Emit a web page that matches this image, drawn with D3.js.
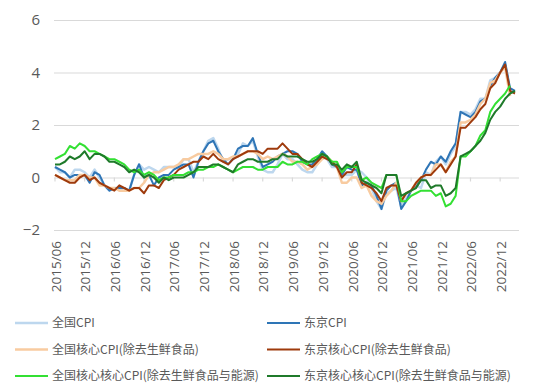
<!DOCTYPE html>
<html>
<head>
<meta charset="utf-8">
<script src="https://cdn.jsdelivr.net/npm/d3@7/dist/d3.min.js"></script>
<style>
  body { margin: 0; background: #fff; }
  svg { display: block; }
  .tick-label { font-family: "Open Sans", "Liberation Sans", sans-serif; fill: #595959; }
  .legend-label { font-family: "Noto Sans CJK SC", sans-serif; font-size: 12px; fill: #595959; }
</style>
</head>
<body>
<svg id="chart" width="550" height="389"></svg>
<script>
'use strict';

// monthly categories, 2015/06 .. 2023/03
const months = d3.timeMonth.range(new Date(2015, 5, 1), new Date(2023, 3, 1))
  .map(d3.timeFormat('%Y/%m'));

const tickLabels = [
  '2015/06', '2015/12', '2016/06', '2016/12', '2017/06', '2017/12', '2018/06', '2018/12',
  '2019/06', '2019/12', '2020/06', '2020/12', '2021/06', '2021/12', '2022/06', '2022/12'
];
const yTicks = [-2, 0, 2, 4, 6];

// YoY %, one value per month starting 2015/06
const nationalCPI = [
  0.4, 0.2, 0.2, 0.0, 0.3, 0.3, 0.2,
  0.0, 0.3, 0.0, -0.3, -0.5, -0.4, -0.4, -0.5, -0.5, 0.1, 0.5, 0.3,
  0.4, 0.3, 0.2, 0.4, 0.4, 0.4, 0.4, 0.7, 0.7, 0.2, 0.6, 1.0,
  1.4, 1.5, 1.1, 0.6, 0.7, 0.7, 0.9, 1.3, 1.2, 1.4, 0.8, 0.3,
  0.2, 0.2, 0.5, 0.9, 0.7, 0.7, 0.5, 0.3, 0.2, 0.2, 0.5, 0.8,
  0.7, 0.4, 0.4, 0.1, 0.1, 0.1, 0.3, 0.2, 0.0, -0.4, -0.9, -1.2,
  -0.6, -0.5, -0.4, -1.1, -0.8, -0.5, -0.3, -0.4, 0.2, 0.1, 0.6, 0.8,
  0.5, 0.9, 1.2, 2.5, 2.5, 2.4, 2.6, 3.0, 3.0, 3.7, 3.8, 4.0,
  4.3, 3.3
];
const tokyoCPI = [
  0.4, 0.3, 0.2, 0.0, 0.1, 0.1, 0.1,
  -0.2, 0.2, 0.1, -0.3, -0.5, -0.4, -0.4, -0.4, -0.5, 0.1, 0.5, 0.0,
  0.1, -0.3, 0.0, 0.1, 0.1, 0.3, 0.4, 0.5, 0.5, 0.0, 0.6, 1.0,
  1.3, 1.4, 1.0, 0.7, 0.5, 0.7, 1.1, 1.2, 1.2, 1.5, 0.9, 0.4,
  0.5, 0.6, 0.8, 0.9, 1.0, 1.0, 0.9, 0.6, 0.5, 0.5, 0.7, 1.0,
  0.8, 0.5, 0.4, 0.1, 0.4, 0.3, 0.3, -0.3, -0.2, -0.3, -0.7, -1.2,
  -0.5, -0.3, -0.2, -1.2, -0.9, -0.5, -0.3, -0.1, 0.3, 0.6, 0.5, 0.8,
  0.6, 1.0, 1.3, 2.5, 2.4, 2.3, 2.5, 2.9, 3.0, 3.5, 3.8, 4.0,
  4.4, 3.4, 3.3
];
const nationalCore = [
  0.1, 0.0, -0.1, -0.1, -0.1, 0.1, 0.1,
  0.0, 0.0, -0.3, -0.3, -0.4, -0.4, -0.5, -0.5, -0.5, -0.4, -0.4, -0.2,
  0.1, 0.2, 0.2, 0.3, 0.4, 0.4, 0.5, 0.7, 0.7, 0.8, 0.9, 0.9,
  0.9, 1.0, 0.9, 0.7, 0.7, 0.8, 0.8, 0.9, 1.0, 1.0, 0.9, 0.7,
  0.8, 0.7, 0.8, 0.9, 0.8, 0.6, 0.6, 0.5, 0.3, 0.4, 0.5, 0.7,
  0.8, 0.6, 0.4, -0.2, -0.2, 0.0, 0.0, -0.4, -0.3, -0.7, -0.9, -1.0,
  -0.7, -0.5, -0.2, -0.9, -0.6, -0.5, -0.2, 0.0, 0.1, 0.1, 0.5, 0.5,
  0.2, 0.6, 0.8, 2.1, 2.1, 2.2, 2.4, 2.8, 3.0, 3.6, 3.7, 4.0,
  4.2, 3.1
];
const tokyoCore = [
  0.1, 0.0, -0.1, -0.2, -0.2, 0.0, 0.1,
  -0.1, 0.0, -0.2, -0.3, -0.4, -0.5, -0.3, -0.4, -0.5, -0.4, -0.4, -0.6,
  -0.3, -0.3, -0.4, -0.1, 0.0, 0.1, 0.3, 0.4, 0.5, 0.6, 0.6, 0.8,
  0.7, 0.9, 0.7, 0.6, 0.5, 0.7, 0.8, 0.9, 1.0, 1.0, 1.0, 0.9,
  1.1, 1.1, 1.1, 1.3, 1.1, 0.9, 0.9, 0.7, 0.5, 0.4, 0.6, 0.8,
  0.7, 0.6, 0.4, 0.0, 0.2, 0.2, 0.5, -0.2, -0.3, -0.4, -0.6, -0.9,
  -0.4, -0.3, -0.3, -0.9, -0.6, -0.5, -0.2, 0.0, 0.1, 0.1, 0.3, 0.5,
  0.2, 0.5, 0.8, 1.9, 1.9, 2.1, 2.3, 2.6, 2.8, 3.4, 3.6, 4.0,
  4.3, 3.3, 3.2
];
const nationalCoreCore = [
  0.7, 0.8, 0.9, 1.2, 1.1, 1.3, 1.2,
  1.0, 1.0, 0.9, 0.8, 0.7, 0.7, 0.6, 0.5, 0.3, 0.2, 0.3, 0.1,
  0.2, 0.1, -0.1, 0.0, 0.0, 0.1, 0.1, 0.1, 0.2, 0.2, 0.3, 0.3,
  0.4, 0.4, 0.5, 0.4, 0.3, 0.2, 0.3, 0.4, 0.4, 0.4, 0.3, 0.3,
  0.4, 0.4, 0.4, 0.6, 0.5, 0.5, 0.6, 0.6, 0.5, 0.7, 0.8, 0.9,
  0.8, 0.6, 0.6, 0.2, 0.4, 0.4, 0.4, -0.1, 0.0, -0.2, -0.3, -0.4,
  0.1, 0.1, 0.1, -0.9, -0.9, -0.7, -0.6, -0.5, -0.5, -0.5, -0.7, -0.6,
  -1.1, -1.0, -0.7, 0.8, 0.8, 1.0, 1.2, 1.6, 1.8, 2.5, 2.8, 3.0,
  3.2, 3.5
];
const tokyoCoreCore = [
  0.5, 0.5, 0.6, 0.8, 0.7, 0.8, 1.0,
  0.7, 0.9, 0.9, 0.8, 0.6, 0.6, 0.5, 0.4, 0.2, 0.3, 0.2, 0.0,
  0.1, 0.0, -0.2, 0.0, -0.1, 0.0, 0.0, 0.0, 0.1, 0.2, 0.4, 0.4,
  0.4, 0.5, 0.5, 0.4, 0.3, 0.2, 0.5, 0.6, 0.7, 0.7, 0.6, 0.6,
  0.6, 0.7, 0.7, 0.9, 0.8, 0.8, 0.8, 0.7, 0.6, 0.6, 0.7, 0.9,
  0.8, 0.5, 0.5, 0.3, 0.5, 0.4, 0.6, -0.1, -0.2, -0.3, -0.4, -0.6,
  0.1, 0.1, 0.1, -0.7, -0.6, -0.5, -0.4, -0.1, -0.1, -0.4, -0.3, -0.3,
  -0.7, -0.6, -0.4, 0.8, 0.9, 1.0, 1.2, 1.4, 1.7, 2.2, 2.5, 2.7,
  3.0, 3.2, 3.3
];

// draw order = legend order; greens end up on top
const series = [
  { name: '全国CPI', values: nationalCPI, color: '#bdd7ee', width: 2.5 },
  { name: '东京CPI', values: tokyoCPI, color: '#2e75b6', width: 2 },
  { name: '全国核心CPI(除去生鲜食品)', values: nationalCore, color: '#f8cba0', width: 2.5 },
  { name: '东京核心CPI(除去生鲜食品)', values: tokyoCore, color: '#9e3a0c', width: 2 },
  { name: '全国核心核心CPI(除去生鲜食品与能源)', values: nationalCoreCore, color: '#33e033', width: 2 },
  { name: '东京核心核心CPI(除去生鲜食品与能源)', values: tokyoCoreCore, color: '#1f7a2a', width: 2 }
];

const svg = d3.select('#chart');
const plot = { left: 54, right: 519, top: 20, bottom: 230 };

const x = d3.scalePoint().domain(months).range([55, 515]);
const y = d3.scaleLinear().domain([-2, 6]).range([plot.bottom, plot.top]);

// horizontal gridlines + y labels
const yAxis = d3.axisLeft(y).tickValues(yTicks).tickSize(-(plot.right - plot.left)).tickPadding(14);
svg.append('g')
  .attr('transform', `translate(${plot.left},0)`)
  .call(yAxis)
  .call(g => g.select('.domain').remove())
  .call(g => g.selectAll('line').attr('stroke', '#d9d9d9').attr('stroke-width', 1.2))
  .call(g => g.selectAll('text').attr('class', 'tick-label').attr('font-size', 15).attr('font-family', null));

// category ticks hang under the zero line
svg.append('g')
  .selectAll('line')
  .data(tickLabels)
  .join('line')
  .attr('x1', d => x(d)).attr('x2', d => x(d))
  .attr('y1', y(0)).attr('y2', y(0) + 4)
  .attr('stroke', '#d9d9d9')
  .attr('stroke-width', 1.2);

// rotated month labels along the bottom
svg.append('g')
  .selectAll('text')
  .data(tickLabels)
  .join('text')
  .attr('class', 'tick-label')
  .attr('font-size', 13.5)
  .attr('text-anchor', 'end')
  .attr('dy', '0.35em')
  .attr('transform', d => `translate(${x(d) + 1},241) rotate(-90)`)
  .text(d => d);

const line = d3.line()
  .defined(d => d != null)
  .x((d, i) => x(months[i]))
  .y(d => y(d));

svg.append('g')
  .selectAll('path')
  .data(series)
  .join('path')
  .attr('fill', 'none')
  .attr('stroke', d => d.color)
  .attr('stroke-width', d => d.width)
  .attr('stroke-linejoin', 'round')
  .attr('d', d => line(d.values));

// legend: two columns, three rows
const legend = svg.append('g')
  .selectAll('g')
  .data(series)
  .join('g')
  .attr('transform', (d, i) => `translate(${i % 2 === 0 ? 15 : 267},${323 + Math.floor(i / 2) * 26.5})`);

legend.append('line')
  .attr('x1', 0).attr('x2', 33)
  .attr('stroke', d => d.color)
  .attr('stroke-width', d => d.width);

legend.append('text')
  .attr('class', 'legend-label')
  .attr('x', 37)
  .attr('dy', '0.35em')
  .text(d => d.name);
</script>
</body>
</html>
